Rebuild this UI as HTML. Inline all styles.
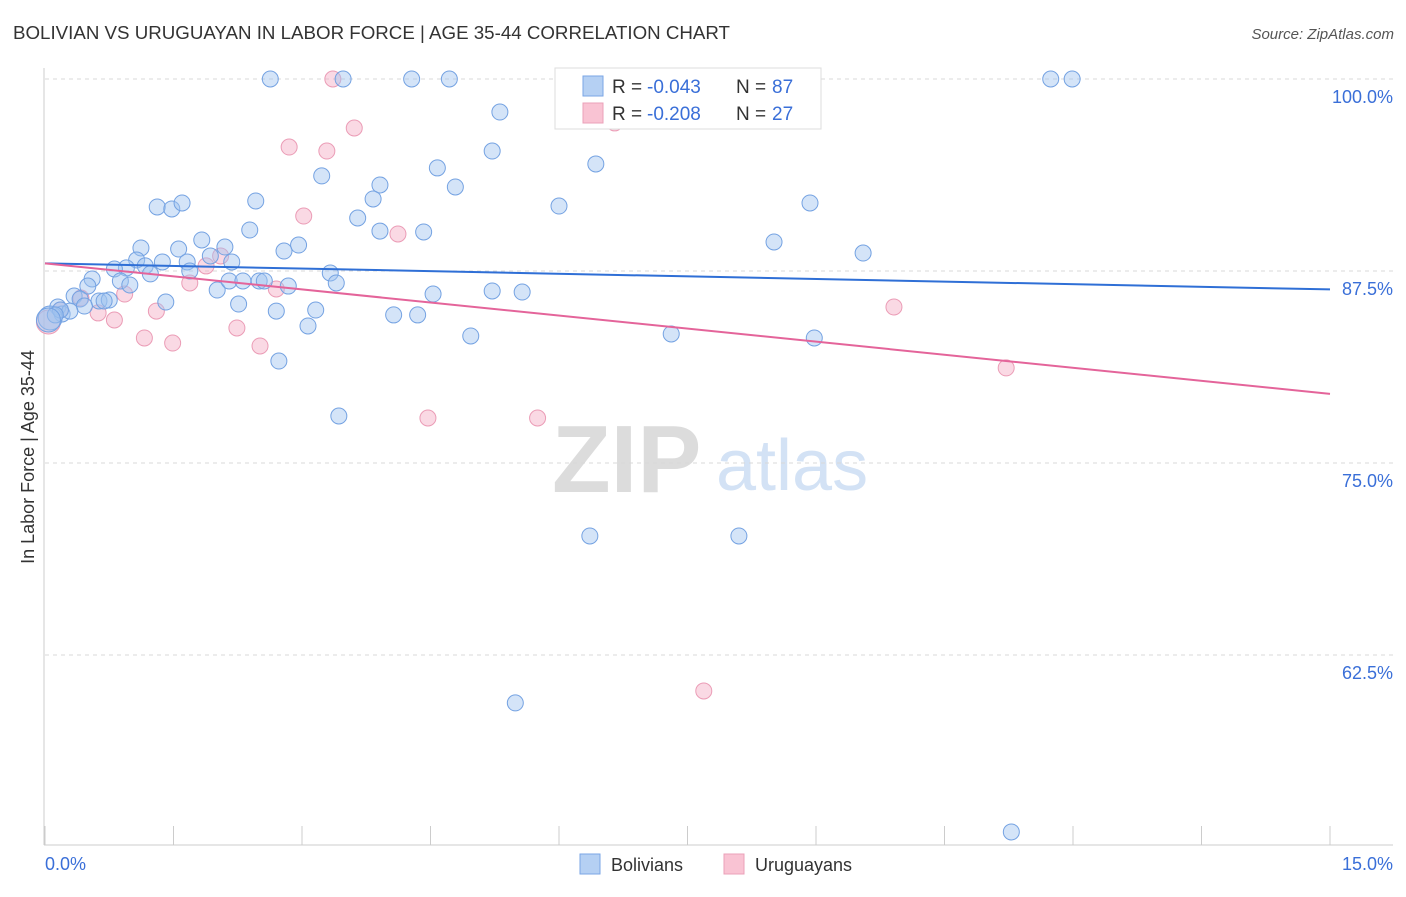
<!DOCTYPE html>
<html><head><meta charset="utf-8"><style>
body{margin:0;background:#fff;font-family:"Liberation Sans",sans-serif;}
svg text{font-family:"Liberation Sans",sans-serif;}
</style></head><body>
<svg id="chart" width="1406" height="892" xmlns="http://www.w3.org/2000/svg">
<text x="13" y="39" font-size="18" fill="#333" textLength="717" lengthAdjust="spacingAndGlyphs">BOLIVIAN VS URUGUAYAN IN LABOR FORCE | AGE 35-44 CORRELATION CHART</text>
<text x="1394" y="39" font-size="15" fill="#555" text-anchor="end" font-style="italic">Source: ZipAtlas.com</text>
<g>
<text x="552" y="492" font-size="96" fill="#dcdcdc" font-family="Liberation Serif" font-weight="bold">ZIP</text>
<text x="716" y="490" font-size="72" fill="#d3e2f5">atlas</text>
</g>
<g id="grid"></g>
<g id="axes"></g>
<g id="marks"></g>
<text transform="translate(34,457) rotate(-90)" font-size="18" fill="#333" text-anchor="middle">In Labor Force | Age 35-44</text>
<text x="45" y="870" font-size="18" fill="#3a6fd8">0.0%</text>
<text x="1393" y="870" font-size="18" fill="#3a6fd8" text-anchor="end">15.0%</text>
<g>
<rect x="555" y="68" width="266" height="61" fill="#fff" stroke="#ddd"/>
<rect x="583" y="76" width="20" height="20" fill="#b5d0f3" stroke="#7aa6e6"/>
<rect x="583" y="103" width="20" height="20" fill="#f9c3d3" stroke="#eba0b8"/>
<text x="612" y="93" font-size="19" fill="#333">R =</text>
<text x="647" y="93" font-size="19" fill="#3a6fd8">-0.043</text>
<text x="736" y="93" font-size="19" fill="#333">N =</text>
<text x="772" y="93" font-size="19" fill="#3a6fd8">87</text>
<text x="612" y="120" font-size="19" fill="#333">R =</text>
<text x="647" y="120" font-size="19" fill="#3a6fd8">-0.208</text>
<text x="736" y="120" font-size="19" fill="#333">N =</text>
<text x="772" y="120" font-size="19" fill="#3a6fd8">27</text>
</g>
<g>
<rect x="580" y="854" width="20" height="20" fill="#b5d0f3" stroke="#7aa6e6"/>
<text x="611" y="871" font-size="18" fill="#333">Bolivians</text>
<rect x="724" y="854" width="20" height="20" fill="#f9c3d3" stroke="#eba0b8"/>
<text x="755" y="871" font-size="18" fill="#333">Uruguayans</text>
</g>
</svg>
<script>
const yTicks=[100,87.5,75,62.5];
const yTickLabels=["100.0%","87.5%","75.0%","62.5%"];
const xTicks=[0,1.5,3,4.5,6,7.5,9,10.5,12,13.5,15];
const bolX=[2.63,3.48,4.28,4.72,11.74,11.99,5.31,5.22,6.43,4.58,3.23,3.91,4.79,1.31,1.48,1.60,2.46,3.83,3.65,6.00,8.93,2.39,3.91,4.42,1.83,1.12,1.56,2.96,2.79,2.10,8.51,9.55,1.07,1.37,1.66,1.17,0.95,0.81,1.93,2.18,1.23,1.69,0.88,0.99,0.55,0.50,2.01,2.15,2.31,2.50,2.56,2.84,3.33,3.40,4.53,5.22,5.57,1.41,2.26,0.63,0.75,0.69,0.34,0.41,0.46,0.15,0.20,0.29,0.06,2.70,3.16,4.07,4.35,3.07,4.97,7.31,8.98,2.73,3.43,6.36,8.10,5.49,11.28,7.06,0.18,0.12,0.04];
const bolY=[100,100,100,100,100,100,97.85,95.31,94.47,94.21,93.69,93.10,92.97,91.67,91.54,91.93,92.06,92.19,90.95,91.73,91.93,90.17,90.10,90.04,89.52,89.00,88.93,89.19,88.80,89.06,89.39,88.67,88.22,88.09,88.09,87.83,87.70,87.63,88.48,88.09,87.31,87.50,86.85,86.59,86.98,86.52,86.26,86.85,86.85,86.85,86.85,86.52,87.37,86.72,86.00,86.20,86.13,85.48,85.35,85.55,85.61,85.55,85.87,85.68,85.22,85.16,84.70,84.89,84.44,84.89,84.96,84.64,84.64,83.92,83.27,83.40,83.14,81.64,78.06,70.25,70.25,59.38,50.98,100,84.96,84.64,84.31];
const uruX=[3.36,3.61,2.85,3.29,6.65,3.02,4.12,2.05,1.88,1.69,2.70,0.93,0.42,0.62,0.81,1.30,2.24,1.16,1.49,2.51,9.91,11.22,4.47,5.75,7.69,0.18,0.04];
const uruY=[100,96.81,95.57,95.31,97.14,91.08,89.91,88.48,87.83,86.72,86.33,86.00,85.74,84.77,84.31,84.89,83.79,83.14,82.81,82.62,85.16,81.19,77.93,77.93,60.16,84.96,84.18];
const bolTrend=[88.0,86.3];
const uruTrend=[88.0,79.5];
const NS="http://www.w3.org/2000/svg";
const xs=v=>45+v*(1285/15);
const ys=v=>79+(100-v)*15.36;
function mk(tag,attrs,parent){const e=document.createElementNS(NS,tag);for(const k in attrs)e.setAttribute(k,attrs[k]);document.getElementById(parent).appendChild(e);return e;}
yTicks.forEach((t,i)=>{
  const g=mk('line',{x1:45,x2:1393,y1:ys(t),y2:ys(t),stroke:'#d8d8d8','stroke-dasharray':'4,4'},'grid');
  
  
  const l=mk('text',{x:1393,y:ys(t)+24,'font-size':18,fill:'#3a6fd8','text-anchor':'end'},'grid');
  l.textContent=yTickLabels[i];
  
  
});
const ax=mk('line',{x1:44,x2:44,y1:68,y2:845,stroke:'#ccc'},'axes');


const bx=mk('line',{x1:44,x2:1393,y1:845,y2:845,stroke:'#ccc'},'axes');


xTicks.forEach(t=>{
  const k=mk('line',{x1:xs(t),x2:xs(t),y1:826,y2:845,stroke:'#ccc'},'axes');
  
  
});
uruX.forEach((x,i)=>{
  const big=(x<0.1);
  const c=mk('circle',{cx:xs(x),cy:ys(uruY[i]),r:big?12:8,fill:'rgba(245,170,195,0.45)',stroke:'#eb9cb6','stroke-width':1},'marks');
  
  
});
bolX.forEach((x,i)=>{
  const big=(x<0.1);
  const c=mk('circle',{cx:xs(x),cy:ys(bolY[i]),r:big?12:8,fill:'rgba(160,195,240,0.45)',stroke:'#74a2e2','stroke-width':1},'marks');
  
  
});
const tb=mk('line',{x1:xs(0),x2:xs(15),y1:ys(bolTrend[0]),y2:ys(bolTrend[1]),stroke:'#2f6fd6','stroke-width':2},'marks');


const tu=mk('line',{x1:xs(0),x2:xs(15),y1:ys(uruTrend[0]),y2:ys(uruTrend[1]),stroke:'#e4649a','stroke-width':2},'marks');


</script>
</body></html>
